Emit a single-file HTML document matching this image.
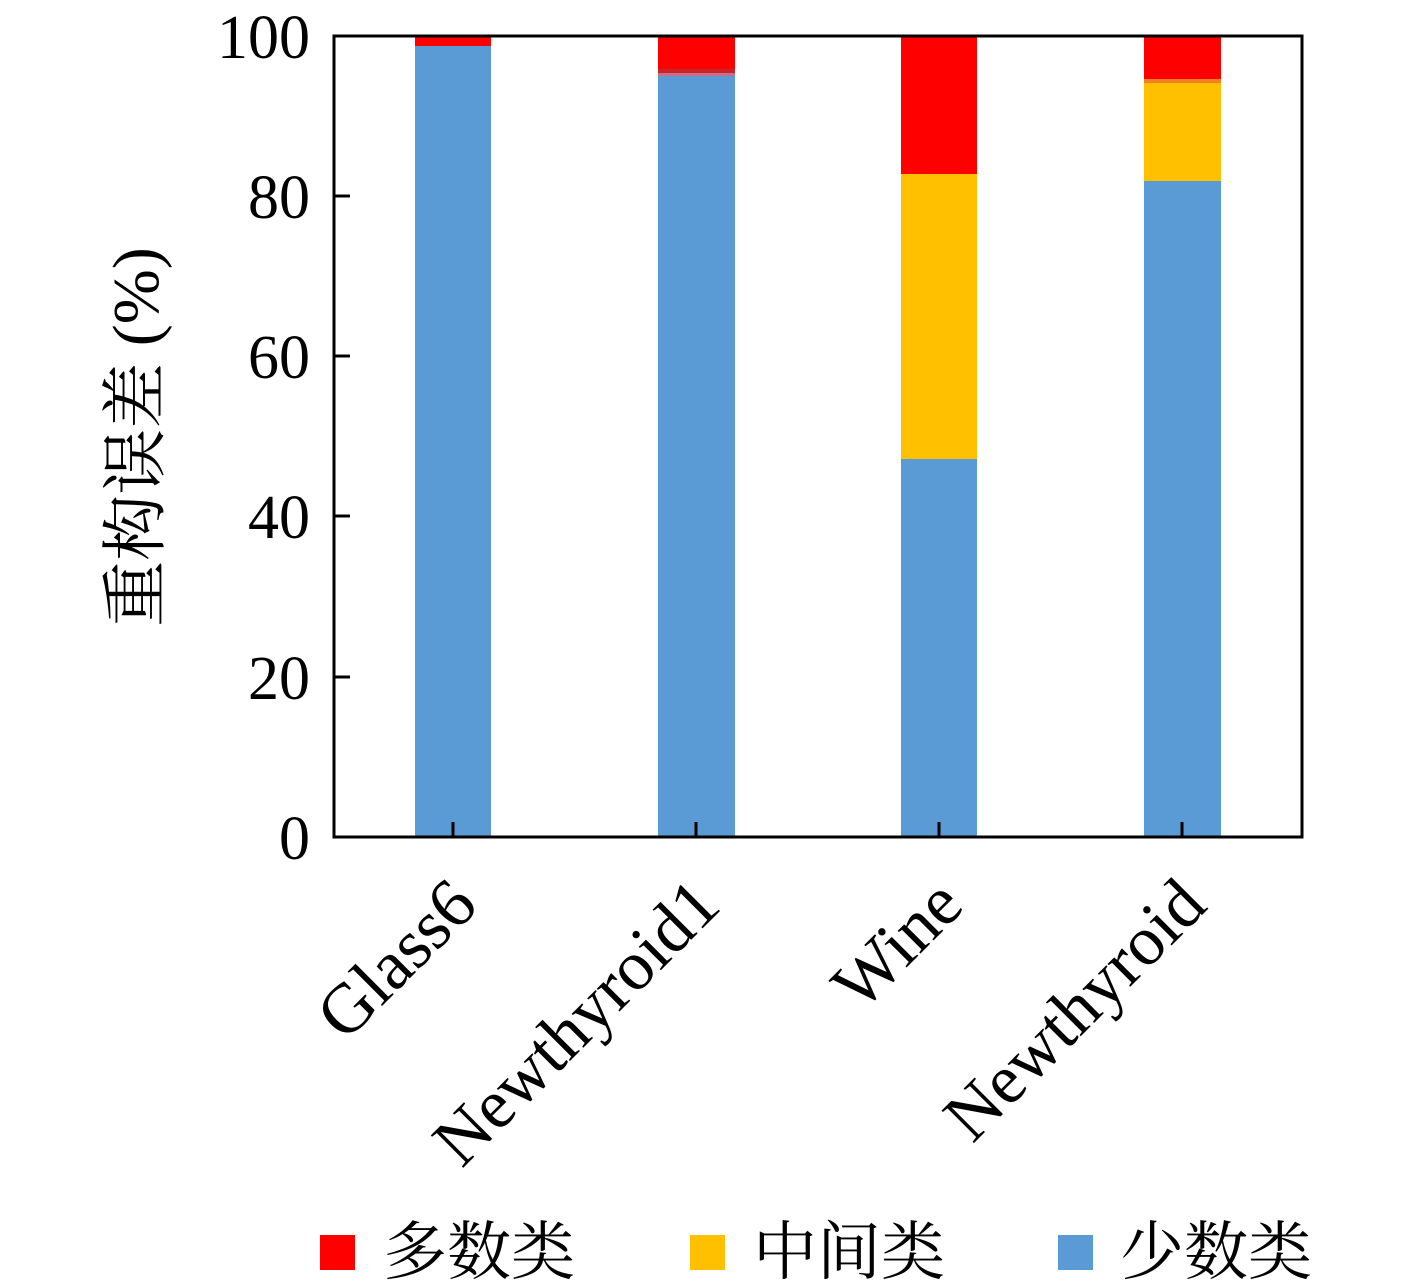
<!DOCTYPE html>
<html><head><meta charset="utf-8"><style>
body{margin:0;background:#fff}
svg{display:block}
</style></head><body>
<svg width="1417" height="1284" xmlns="http://www.w3.org/2000/svg">
<g>
<rect x="415" y="36" width="76" height="10" fill="#ff0000"/>
<rect x="415" y="46" width="76" height="791" fill="#5b9bd5"/>
<rect x="658" y="36" width="77" height="33" fill="#ff0000"/>
<rect x="658" y="69" width="77" height="4" fill="#c0282a"/>
<rect x="658" y="73" width="77" height="3" fill="#d06a8a"/>
<rect x="658" y="76" width="77" height="761" fill="#5b9bd5"/>
<rect x="901" y="36" width="76" height="138" fill="#ff0000"/>
<rect x="901" y="174" width="76" height="285" fill="#ffc000"/>
<rect x="901" y="459" width="76" height="378" fill="#5b9bd5"/>
<rect x="1144" y="36" width="77" height="43" fill="#ff0000"/>
<rect x="1144" y="79" width="77" height="4" fill="#f08020"/>
<rect x="1144" y="83" width="77" height="98" fill="#ffc000"/>
<rect x="1144" y="181" width="77" height="656" fill="#5b9bd5"/>
</g>
<rect x="334" y="36" width="968" height="801" fill="none" stroke="#000" stroke-width="3"/>
<g stroke="#000" stroke-width="3">
<line x1="334" y1="677" x2="350" y2="677"/>
<line x1="334" y1="516" x2="350" y2="516"/>
<line x1="334" y1="356" x2="350" y2="356"/>
<line x1="334" y1="196" x2="350" y2="196"/>
<line x1="453" y1="837" x2="453" y2="822"/>
<line x1="696" y1="837" x2="696" y2="822"/>
<line x1="939" y1="837" x2="939" y2="822"/>
<line x1="1182" y1="837" x2="1182" y2="822"/>
</g>
<g font-family="Liberation Serif, serif" font-size="62" text-anchor="end" fill="#000">
<text x="310" y="859">0</text>
<text x="310" y="699">20</text>
<text x="310" y="538">40</text>
<text x="310" y="378">60</text>
<text x="310" y="218">80</text>
<text x="310" y="58">100</text>
</g>
<text transform="translate(158,437) rotate(-90)" font-family="Liberation Serif, 'Noto Serif CJK SC', serif" font-size="66" text-anchor="middle">重构误差 (%)</text>
<g font-family="Liberation Serif, serif" font-size="70" text-anchor="end">
<text transform="translate(480,908) rotate(-45)">Glass6</text>
<text transform="translate(723,908) rotate(-45)">Newthyroid1</text>
<text transform="translate(966,908) rotate(-45)">Wine</text>
<text transform="translate(1209,908) rotate(-45)">Newthyroid</text>
</g>
<rect x="320" y="1235" width="35" height="35" fill="#ff0000"/>
<rect x="690" y="1235" width="35" height="35" fill="#ffc000"/>
<rect x="1058" y="1235" width="35" height="35" fill="#5b9bd5"/>
<g font-family="'Noto Serif CJK SC', serif" font-size="64">
<text x="383" y="1274">多数类</text>
<text x="753" y="1274">中间类</text>
<text x="1120" y="1274">少数类</text>
</g>
</svg>
</body></html>
